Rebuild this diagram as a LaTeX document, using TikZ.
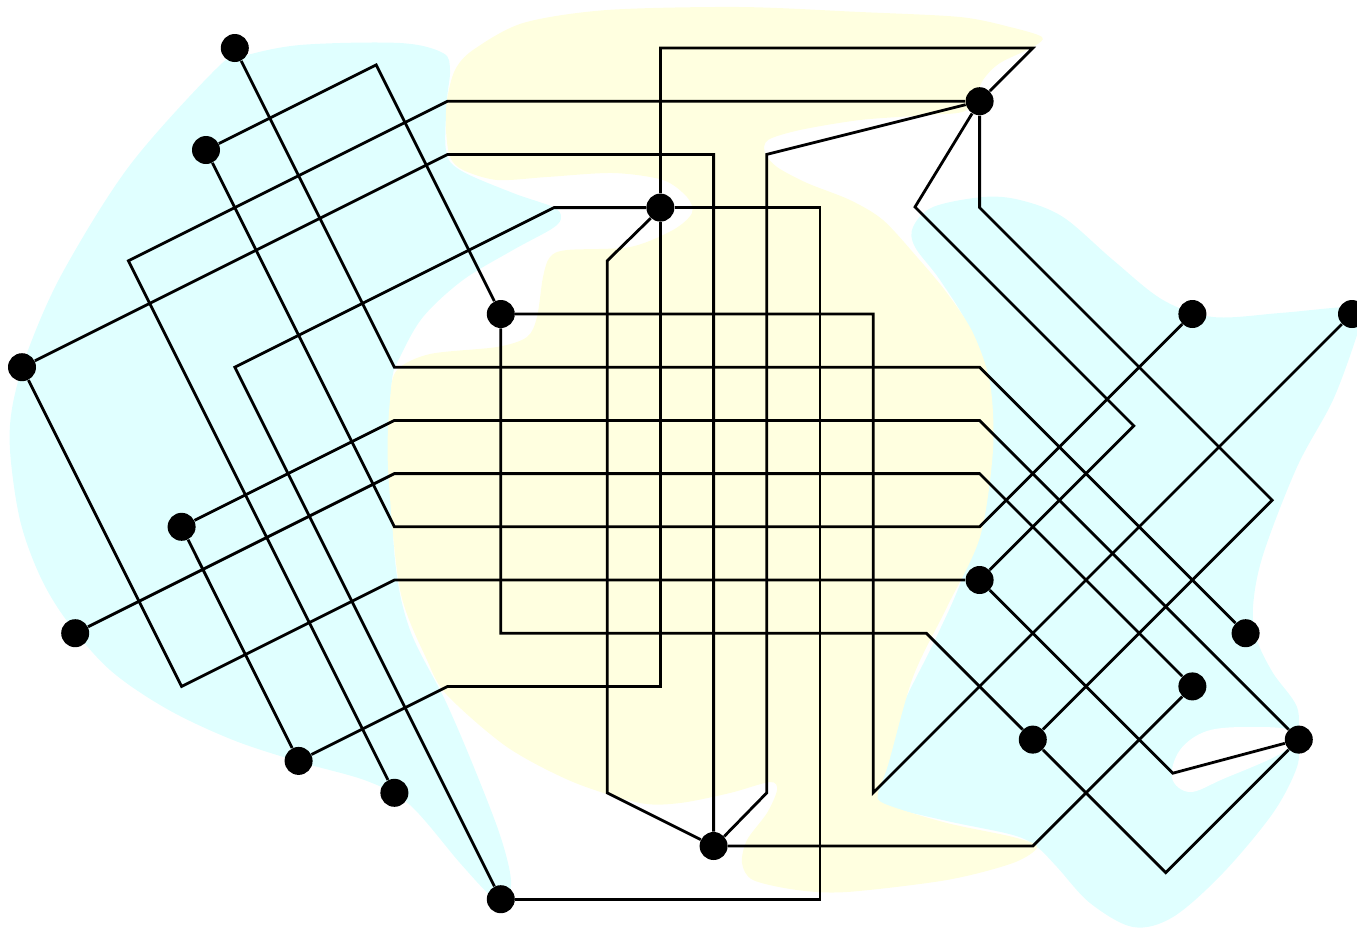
\documentclass[tikz,border=0pt]{standalone}
\definecolor{cyanbg}{HTML}{E0FFFF}
\definecolor{yellowbg}{HTML}{FFFFE0}
\begin{document}
\begin{tikzpicture}[x=0.5pt,y=-0.5pt,
  dot/.style={circle,fill=black,inner sep=0pt,minimum size=14pt},
  wire/.style={line width=1.4pt,black},
  cyanblob/.style={fill=cyanbg},
  yellowblob/.style={fill=yellowbg},
  hole/.style={fill=white}]
\useasboundingbox (0,0) rectangle (1357,928);
% ---------- background regions ----------
\path[cyanblob] plot[smooth cycle,tension=0.55] coordinates {
 (240,57) (300,45) (400,43) (443,53) (450,70) (447,100) (446,150) (460,170)
 (513,193) (553,207) (561,217) (553,228) (513,250) (463,280) (423,317) (400,357)
 (392,380) (390,440) (395,560) (410,630) (445,700) (473,765) (500,835) (511,880)
 (505,900) (490,895) (460,863) (410,805) (367,781) (300,762) (233,740) (167,709)
 (110,670) (67,621) (40,576) (20,520) (10,450) (13,403) (30,345) (64,270)
 (130,165) (217,68)};
\path[cyanblob] plot[smooth cycle,tension=0.55] coordinates {
 (913,227) (933,207) (983,197) (1020,200) (1063,217) (1113,260) (1163,300)
 (1213,317) (1280,313) (1347,307) (1362,312) (1357,335) (1333,400) (1297,467)
 (1263,555) (1253,607) (1257,640) (1273,673) (1297,707) (1298,740) (1297,767)
 (1273,813) (1223,873) (1173,917) (1133,927) (1090,903) (1057,867) (1037,847)
 (1013,835) (947,821) (882,805) (875,795) (882,767) (902,707) (935,640)
 (965,570) (985,480) (990,400) (970,330) (940,280) (915,247)};
\path[hole] plot[smooth cycle,tension=0.6] coordinates {
 (1172,778) (1180,750) (1207,731) (1250,727) (1292,731) (1283,752)
 (1223,779) (1190,792)};
\path[yellowblob] plot[smooth cycle,tension=0.5] coordinates {
 (447,100) (455,70) (473,50) (523,23) (607,10) (740,7) (860,12) (960,17)
 (1010,27) (1042,37) (1033,47) (1000,63) (983,80) (967,110) (927,115)
 (860,120) (800,130) (768,140) (765,153) (777,167) (807,183) (850,200)
 (883,220) (917,257) (947,293) (973,333) (990,383) (993,450) (980,537)
 (947,607) (913,677) (888,765) (878,793) (885,804) (947,823) (1013,837)
 (1037,847) (1013,863) (947,880) (847,892) (797,890) (753,880) (742,863)
 (747,840) (767,813) (777,790) (770,782) (730,793) (680,803) (640,803)
 (573,782) (507,747) (447,695) (427,660) (400,590) (388,467) (390,400)
 (397,370) (430,354) (497,347) (527,337) (537,317) (543,277) (550,257)
 (567,250) (630,247) (673,230) (692,213) (687,197) (663,180) (613,173)
 (547,177) (497,180) (463,170) (450,157) (446,130)};
% ---------- nodes ----------
\node[dot] (n1)  at (234.8,48) {};
\node[dot] (n2)  at (206,150) {};
\node[dot] (n3)  at (22,367.2) {};
\node[dot] (n4)  at (181.6,526.8) {};
\node[dot] (n5)  at (75.2,633.2) {};
\node[dot] (n6)  at (298.6,760.9) {};
\node[dot] (n7)  at (394.4,792.8) {};
\node[dot] (n8)  at (500.8,899.2) {};
\node[dot] (n9)  at (500.8,314) {};
\node[dot] (n10) at (660.4,207.6) {};
\node[dot] (n11) at (713.6,846) {};
\node[dot] (n12) at (979.6,101.2) {};
\node[dot] (n13) at (979.6,580) {};
\node[dot] (n14) at (1032.8,739.6) {};
\node[dot] (n15) at (1192.4,314) {};
\node[dot] (n16) at (1352,314) {};
\node[dot] (n17) at (1245.6,633.2) {};
\node[dot] (n18) at (1192.4,686.4) {};
\node[dot] (n19) at (1298.8,739.6) {};
% ---------- connectors ----------
\draw[wire] (n1) -- (394.4,367.2) -- (979.6,367.2) -- (n17);
\draw[wire] (n2) -- (376.2,64.9) -- (n9);
\draw[wire] (n2) -- (394.4,526.8) -- (979.6,526.8) -- (n15);
\draw[wire] (n7) -- (128.4,260.8) -- (447.6,101.2) -- (n12);
\draw[wire] (n3) -- (447.6,154.4) -- (713.6,154.4) -- (n11);
\draw[wire] (n3) -- (181.6,686.4) -- (394.4,580) -- (n13);
\draw[wire] (n10) -- (554,207.6) -- (234.8,367.2) -- (n8);
\draw[wire] (n4) -- (394.4,420.4) -- (979.6,420.4) -- (n19);
\draw[wire] (n4) -- (n6);
\draw[wire] (n5) -- (394.4,473.6) -- (979.6,473.6) -- (n18);
\draw[wire] (n6) -- (447.6,686.4) -- (660.4,686.4) -- (n10);
\draw[wire] (n10) -- (660.4,48) -- (1032.8,48) -- (n12);
\draw[wire] (n12) -- (766.8,154.4) -- (766.8,792.8) -- (n11);
\draw[wire] (n12) -- (915,207) -- (1133.8,425.8) -- (n13);
\draw[wire] (n12) -- (979.6,207.6) -- (1272.2,500.2) -- (n14);
\draw[wire] (n10) -- (607.2,260.8) -- (607.2,792.8) -- (n11);
\draw[wire] (n10) -- (820,207.6) -- (820,899.2) -- (n8);
\draw[wire] (n9) -- (873.2,314) -- (873.2,792.8) -- (n16);
\draw[wire] (n9) -- (500.8,633.2) -- (926.4,633.2) -- (n14);
\draw[wire] (n13) -- (1172.8,773.2) -- (n19);
\draw[wire] (n19) -- (1165.8,872.6) -- (n14);
\draw[wire] (n11) -- (1032.8,846) -- (n18);
\end{tikzpicture}
\end{document}
